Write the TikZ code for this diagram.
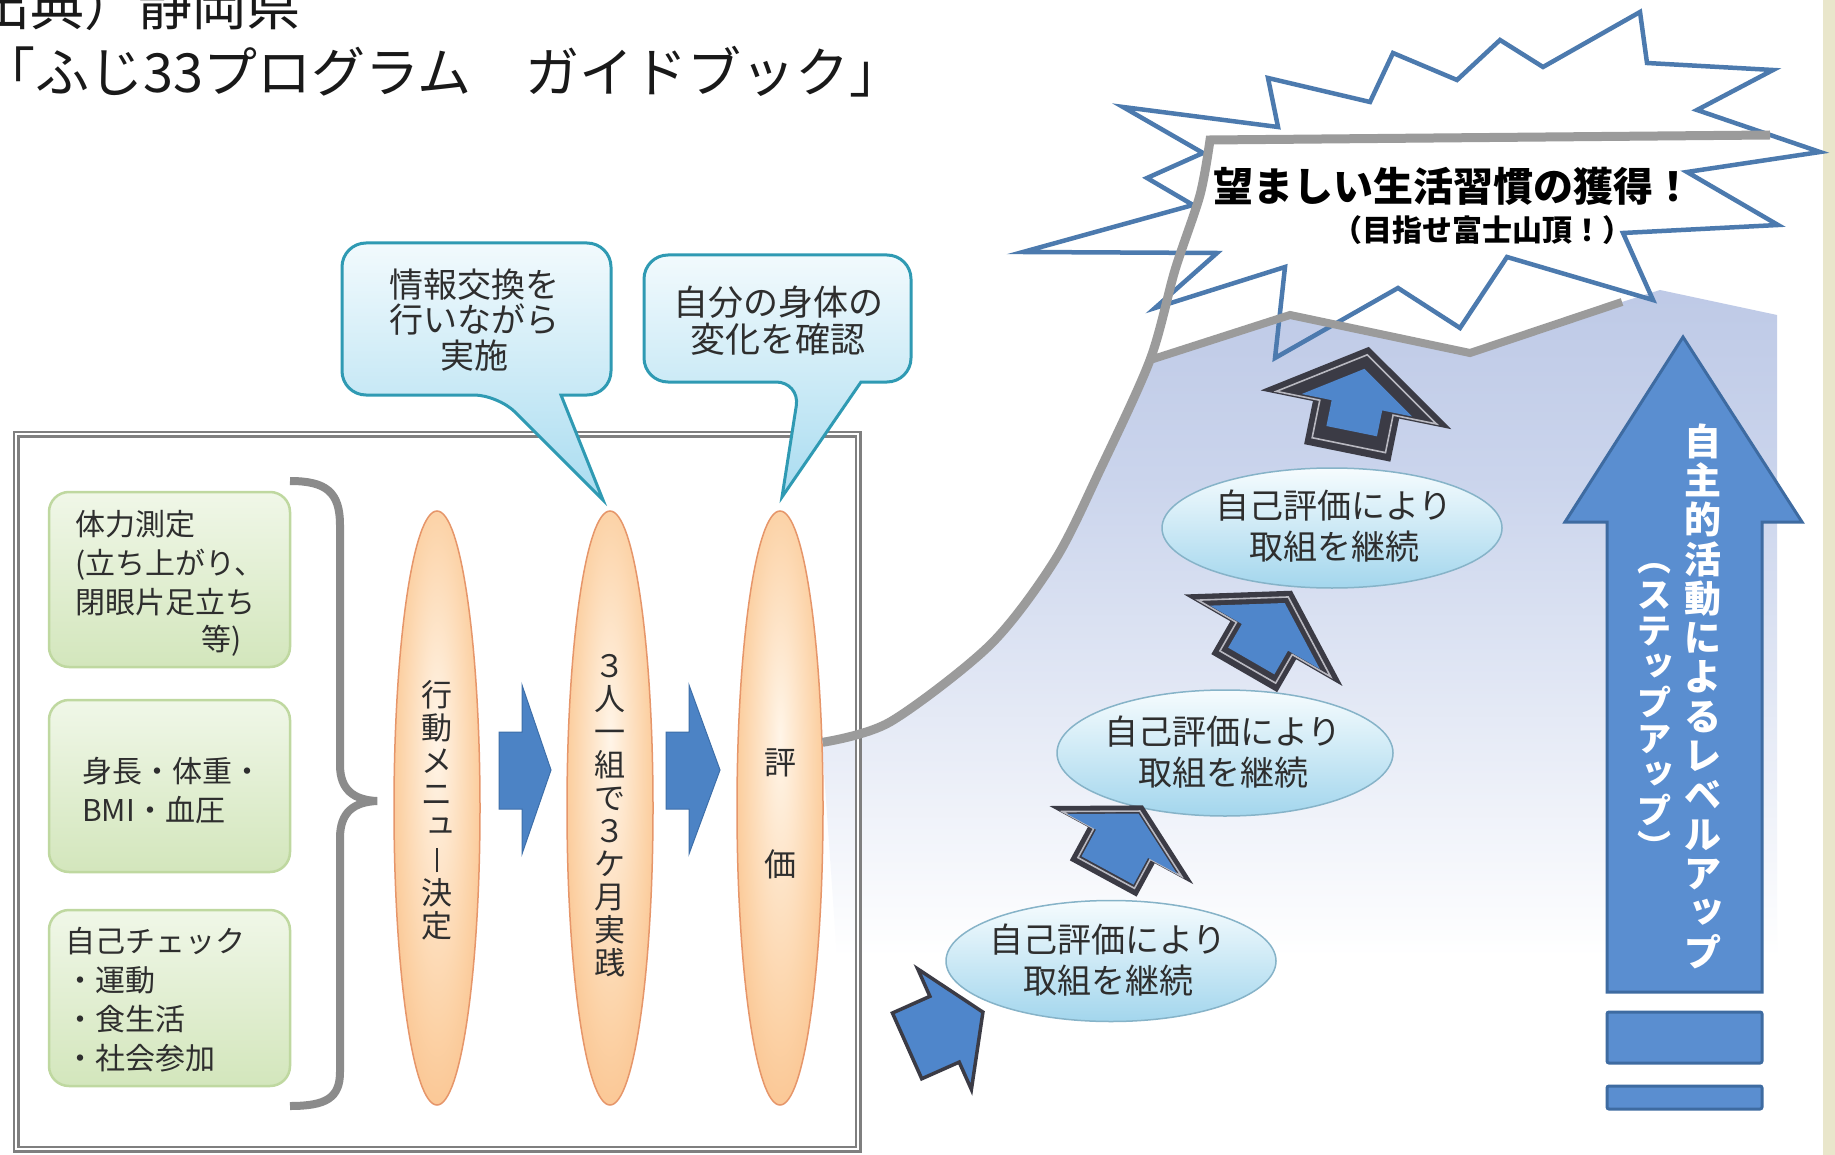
\documentclass[tikz,border=0pt]{standalone}
\usepackage{fontspec}
\usepackage{graphicx}
\setmainfont{Noto Sans CJK JP}
\usetikzlibrary{shapes.geometric}

\definecolor{beige}{HTML}{E9E6CB}
\definecolor{skyA}{HTML}{A8B6DC}
\definecolor{skyB}{HTML}{CAD4EC}
\definecolor{burst}{HTML}{4C7AAE}
\definecolor{gline}{HTML}{9B9B9B}
\definecolor{boxgray}{HTML}{7F7F7F}
\definecolor{gT}{HTML}{F0F7E8}
\definecolor{gB}{HTML}{D3E6BC}
\definecolor{gD}{HTML}{BFD8A0}
\definecolor{ocA}{HTML}{FFF5E8}
\definecolor{ocB}{HTML}{FCD2A6}
\definecolor{ocC}{HTML}{F5A15A}
\definecolor{oD}{HTML}{E6966A}
\definecolor{rarrow}{HTML}{4C83C5}
\definecolor{rarrowD}{HTML}{3E6FA9}
\definecolor{cT}{HTML}{F2FAFD}
\definecolor{cB}{HTML}{A9DCF0}
\definecolor{cD}{HTML}{2F9AB3}
\definecolor{sT}{HTML}{F6FCFE}
\definecolor{sB}{HTML}{A3D6ED}
\definecolor{sD}{HTML}{86B3C8}
\definecolor{stepblue}{HTML}{4F86CB}
\definecolor{stepdark}{HTML}{3B3B45}
\definecolor{steplight}{HTML}{B8B8C0}
\definecolor{bigfill}{HTML}{5A8ED0}
\definecolor{bigdraw}{HTML}{3E6BA1}
\definecolor{txt}{HTML}{2E2E2E}

\pgfdeclareverticalshading{skyfade}{100bp}{color(0bp)=(white); color(28bp)=(white); color(62bp)=(skyB); color(100bp)=(skyA)}
\pgfdeclareradialshading{eglow}{\pgfpoint{0bp}{6bp}}{color(0bp)=(ocA); color(22bp)=(ocB); color(50bp)=(ocC)}

% helpers for vertical (tate) columns
\newcommand\vk[1]{\makebox[1em][l]{\hspace{0.12em}\raisebox{0.14em}{#1}}}
\newcommand\vbar{\makebox[1em][c]{\rule[-0.04em]{0.07em}{0.8em}}}

\tikzset{
  lbl/.style={text=txt, inner sep=0pt},
  gbox/.style={draw=gD, line width=2.5pt, rounded corners=20pt, top color=gT, bottom color=gB},
  gtext/.style={lbl, align=left, font=\fontsize{30}{39}\selectfont},
  oell/.style={ellipse, draw=oD, line width=1.5pt, shade, shading=eglow, minimum width=86pt, minimum height=594pt, inner sep=0pt},
  vtext/.style={lbl, align=center, font=\fontsize{31}{33}\selectfont},
  htext/.style={lbl, font=\fontsize{32}{32}\selectfont},
  rarr/.style={fill=rarrow, draw=rarrowD, line width=1pt},
  callout/.style={draw=cD, line width=3pt, top color=cT, bottom color=cB},
  ctext/.style={lbl, align=center},
  sell/.style={ellipse, draw=sD, line width=1.5pt, top color=sT, bottom color=sB, inner sep=0pt},
  stext/.style={lbl, align=center, font=\fontsize{34}{41}\selectfont},
  grayln/.style={draw=gline, line width=9pt},
  burstln/.style={draw=burst, line width=4.5pt},
  bigarr/.style={fill=bigfill, draw=bigdraw, line width=3pt},
  bigtext/.style={inner sep=0pt, text=white, align=center},
}

\newcommand\steparrowplain[7]{%
  \begin{scope}[shift={(#1,#2)},rotate=#3]
    \filldraw[fill=stepblue, draw=stepdark, line width=3.5pt]
      (0,-#4/2) -- (#6,-#4/2+#5) -- (#7,-#4/2+#5) -- (#7,#4/2) -- (-#7,#4/2) -- (-#7,-#4/2+#5) -- (-#6,-#4/2+#5) -- cycle;
  \end{scope}}
\newcommand\steparrowdbl[8]{%
  \begin{scope}[shift={(#1,#2)},rotate=#3]
    \filldraw[fill=stepdark, draw=stepdark, line width=2pt]
      (0,-#4/2) -- (#6,-#4/2+#5) -- (#7,-#4/2+#5) -- (#7,#4/2) -- (-#7,#4/2) -- (-#7,-#4/2+#5) -- (-#6,-#4/2+#5) -- cycle;
    \begin{scope}[scale=0.87]
      \draw[steplight, line width=1.6pt]
        (0,-#4/2) -- (#6,-#4/2+#5) -- (#7,-#4/2+#5) -- (#7,#4/2) -- (-#7,#4/2) -- (-#7,-#4/2+#5) -- (-#6,-#4/2+#5) -- cycle;
    \end{scope}
    \begin{scope}[scale=#8]
      \fill[stepblue]
        (0,-#4/2) -- (#6,-#4/2+#5) -- (#7,-#4/2+#5) -- (#7,#4/2) -- (-#7,#4/2) -- (-#7,-#4/2+#5) -- (-#6,-#4/2+#5) -- cycle;
    \end{scope}
  \end{scope}}

\begin{document}
\begin{tikzpicture}[x=1pt,y=-1pt]
\useasboundingbox (0,0) rectangle (1835,1155);
\fill[white] (0,0) rectangle (1835,1155);
\fill[beige] (1823,0) rectangle (1835,1155);

% light blue mountain region
\shade[shading=skyfade] plot[smooth] coordinates {(822,743) (890,722) (990,645) (1055,560) (1100,470) (1150,360)}
  -- (1290,315) -- (1470,353) -- (1622,302) -- (1660,290) -- (1777,315) -- (1777,1000) -- (840,1000) -- cycle;

% starburst
\draw[burstln] (1123,107) -- (1278,127) -- (1268,78) -- (1370,102) -- (1393,53) -- (1457,80) -- (1500,40)
  -- (1543,67) -- (1640,12) -- (1647,63) -- (1773,70) -- (1697,110) -- (1820,152) -- (1687,172)
  -- (1778,225) -- (1623,233) -- (1653,300) -- (1507,257) -- (1460,328) -- (1398,288) -- (1275,358)
  -- (1285,267) -- (1155,308) -- (1217,253) -- (1023,252) -- (1193,205) -- (1147,178) -- (1203,153) -- cycle;

% source title
\node[anchor=west, inner sep=0pt, text=black!90, font=\fontsize{54}{54}\selectfont] (src1) at (-24,5) {出典）静岡県};
\node[anchor=west, inner sep=0pt, text=black!90, font=\fontsize{54}{54}\selectfont] (src2) at (-19,72) {「ふじ33プログラム　ガイドブック」};

% left frame (double line)
\draw[boxgray, line width=7pt] (16,434) rectangle (858,1149);
\draw[white, line width=1.6pt] (16,434) rectangle (858,1149);

% green boxes
\node[gbox, minimum width=241pt, minimum height=175pt] (g1) at (169.5,579.5) {};
\node[gbox, minimum width=241pt, minimum height=172pt] (g2) at (169.5,786) {};
\node[gbox, minimum width=241pt, minimum height=176pt] (g3) at (169.5,998) {};
\node[gtext, anchor=west] (g1t) at (75,563.5) {体力測定\\(立ち上がり、\\閉眼片足立ち};
\node[gtext, anchor=east] (g1u) at (242,641) {等)};
\node[gtext, anchor=west] (g2t) at (82,791) {身長・体重・\\BMI・血圧};
\node[gtext, anchor=west] (g3t) at (65,1000) {自己チェック\\・運動\\・食生活\\・社会参加};

% brace
\draw[gline!90!black, line width=8pt] (290,481) .. controls (326,481) and (340,492) .. (340,525) -- (340,765)
  .. controls (340,790) and (354,800) .. (377,801) .. controls (354,802) and (340,812) .. (340,838)
  -- (340,1072) .. controls (340,1098) and (326,1106) .. (290,1106);

% orange ellipses
\node[oell] (E1) at (437,808) {};
\node[oell] (E2) at (610,808) {};
\node[oell] (E3) at (780,808) {};
\node[vtext] (E1t) at (437,810) {行\\動\\メ\\ニ\\\vk{ュ}\\\vbar\\決\\定};
\node[vtext] (E2t) at (610,816) {３\\人\\一\\組\\で\\３\\ケ\\月\\実\\践};
\node[htext] (E3a) at (780,763) {評};
\node[htext] (E3b) at (780,864) {価};

% blue block arrows between ellipses
\filldraw[rarr] (499,732) -- (522,732) -- (522,685) -- (551,770) -- (522,854) -- (522,809) -- (499,809) -- cycle;
\filldraw[rarr] (666,732) -- (689,732) -- (689,685) -- (720,770) -- (689,854) -- (689,809) -- (666,809) -- cycle;

% callouts
\draw[callout] (561,395) [rounded corners=24pt] -- (611,395) -- (611,243) -- (342,243) -- (342,395) -- (498,395) [sharp corners] -- (603,500) -- cycle;
\node[ctext, font=\fontsize{34}{35.5}\selectfont] (C1t) at (474,320) {情報交換を\\行いながら\\実施};
\draw[callout] (861,382) [rounded corners=24pt] -- (911,382) -- (911,255) -- (644,255) -- (644,382) -- (800,382) [sharp corners] -- (782,497) -- cycle;
\node[ctext, font=\fontsize{35}{37}\selectfont] (C2t) at (778,320.5) {自分の身体の\\変化を確認};

% gray mountain outline
\draw[grayln] plot[smooth] coordinates {(E3.57) (890,722) (990,645) (1055,560) (1100,470) (1150,360) (1175,270) (1200,195) (1210,140)} -- (1770,135);
\draw[grayln, line width=8pt] (1150,360) -- (1290,315) -- (1470,353) -- (1622,302);

% summit texts
\node[inner sep=0pt, text=black, font=\bfseries\fontsize{40}{40}\selectfont] (T1) at (1453,186) {望ましい生活習慣の獲得！};
\node[inner sep=0pt, text=black, font=\bfseries\fontsize{30}{30}\selectfont] (T2) at (1482,230) {（目指せ富士山頂！）};

% stepping ellipses
\node[sell, minimum width=330pt, minimum height=121pt] (S1) at (1111,961) {};
\node[sell, minimum width=336pt, minimum height=126pt] (S2) at (1225,753) {};
\node[sell, minimum width=340pt, minimum height=120pt] (S3) at (1332,528) {};
\node[stext] (S1t) at (1108,960) {自己評価により\\取組を継続};
\node[stext] (S2t) at (1223,752) {自己評価により\\取組を継続};
\node[stext] (S3t) at (1334,526) {自己評価により\\取組を継続};

% stepping arrows
\steparrowplain{945}{1029}{-66}{83}{42}{66}{36}
\steparrowdbl{1123}{842}{-28.5}{81}{43}{78}{37}{0.8}
\steparrowdbl{1268}{632}{-30}{93}{55}{88}{37}{0.72}
\steparrowdbl{1358}{400}{-11.5}{106}{62}{94}{43}{0.6}

% big arrow
\filldraw[bigarr] (1683,337) -- (1802,522) -- (1762,522) -- (1762,992) -- (1607,992) -- (1607,522) -- (1565,522) -- cycle;
\filldraw[bigarr, rounded corners=2pt] (1607,1012) rectangle (1762,1063);
\filldraw[bigarr, rounded corners=2pt] (1607,1086) rectangle (1762,1109);
\node[bigtext, font=\bfseries\fontsize{37}{39.3}\selectfont] (B1) at (1703,696) {自\\主\\的\\活\\動\\に\\よ\\る\\レ\\ベ\\ル\\ア\\\vk{ッ}\\プ};
\node[bigtext, font=\bfseries\fontsize{34}{36}\selectfont] (B2) at (1654,711) {︵\\ス\\テ\\\vk{ッ}\\プ\\ア\\\vk{ッ}\\プ\\︶};
\end{tikzpicture}
\end{document}
